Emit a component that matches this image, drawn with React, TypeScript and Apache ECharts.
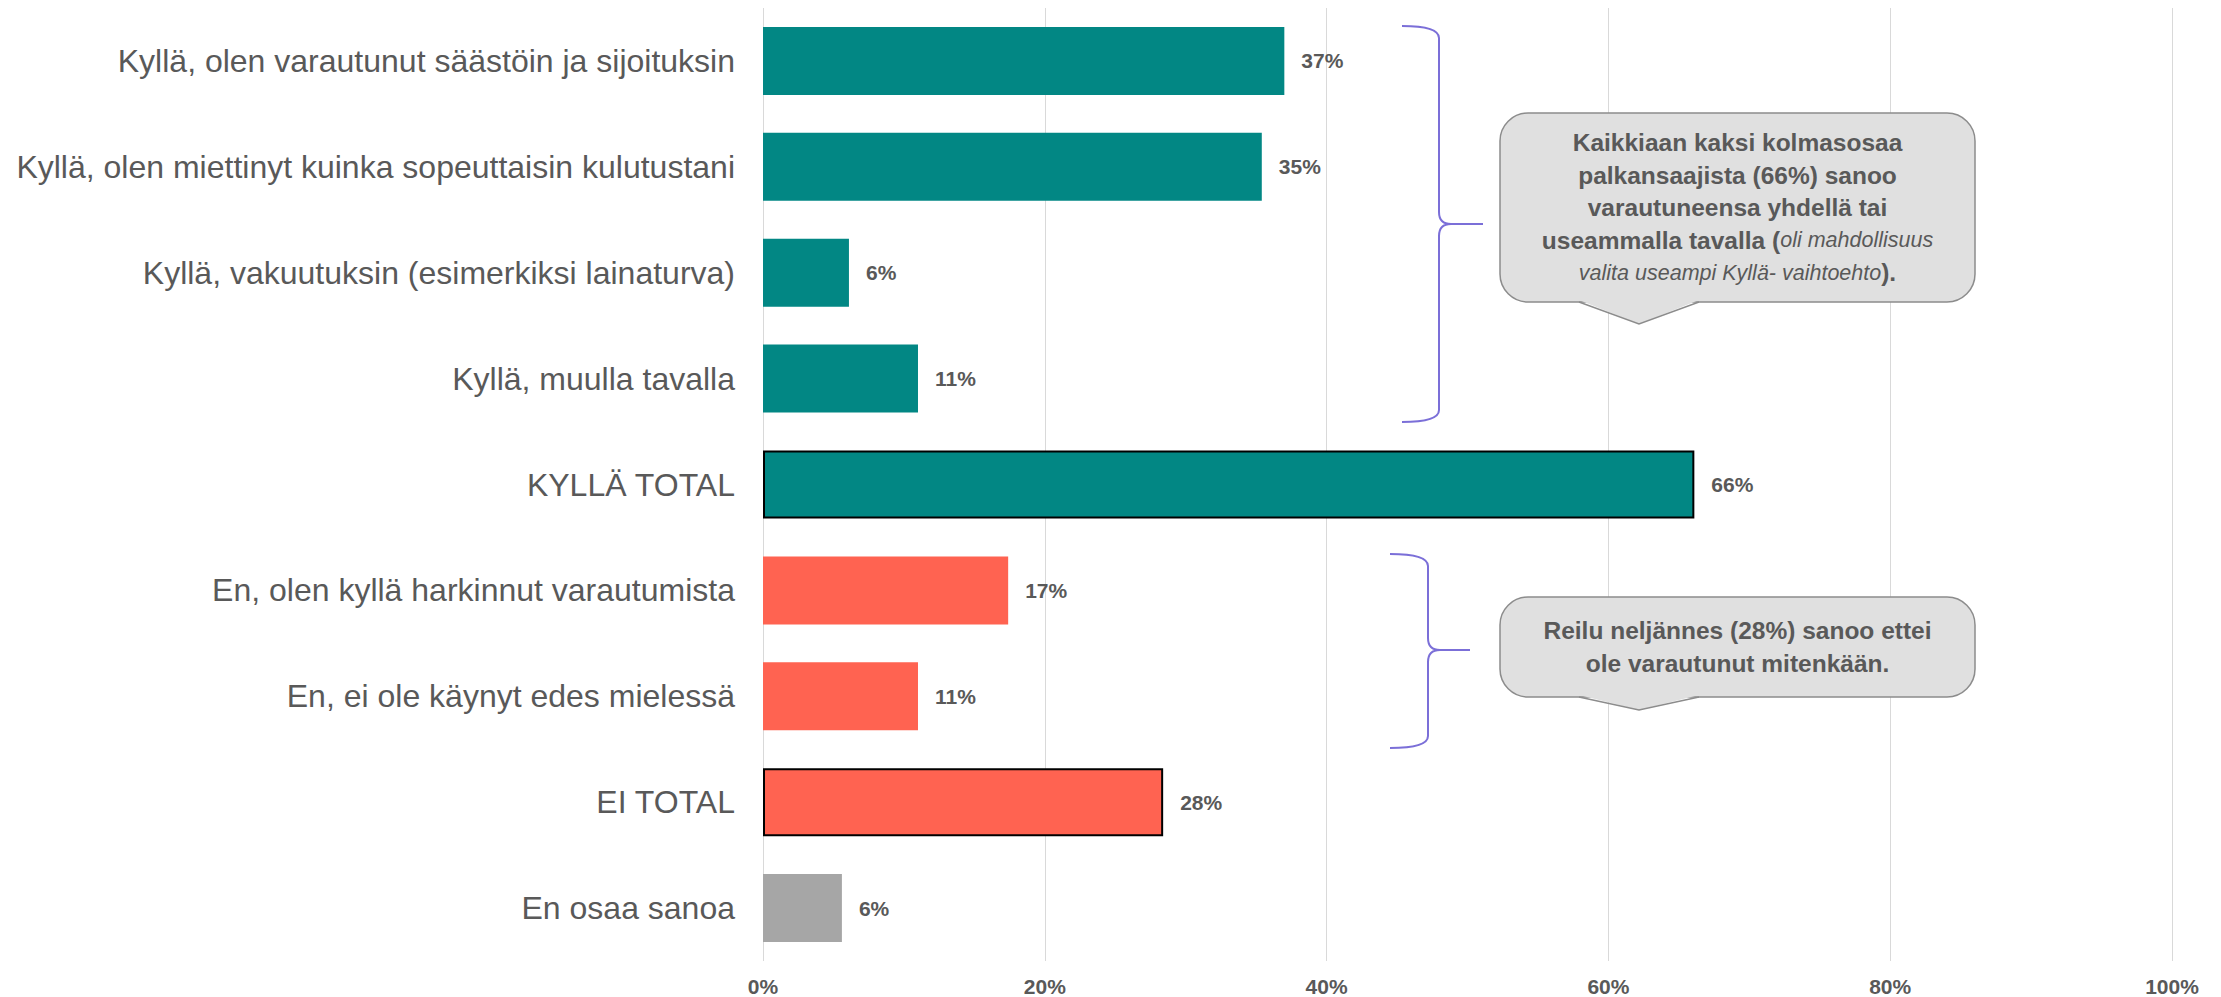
import React, { useEffect, useRef } from "react";
import * as echarts from "echarts";

const categories = [
  "Kyllä, olen varautunut säästöin ja sijoituksin",
  "Kyllä, olen miettinyt kuinka sopeuttaisin kulutustani",
  "Kyllä, vakuutuksin (esimerkiksi lainaturva)",
  "Kyllä, muulla tavalla",
  "KYLLÄ TOTAL",
  "En, olen kyllä harkinnut varautumista",
  "En, ei ole käynyt edes mielessä",
  "EI TOTAL",
  "En osaa sanoa",
];
const values = [37.0, 35.4, 6.1, 11.0, 66.1, 17.4, 11.0, 28.4, 5.6];
const groups = ["yes", "yes", "yes", "yes", "yes", "no", "no", "no", "dk"];
const isTotal = [false, false, false, false, true, false, false, true, false];
const xTicks = [0, 20, 40, 60, 80, 100];

const groupColors: Record<string, string> = { yes: "#028784", no: "#FF6351", dk: "#A6A6A6" };
const FONT = "'Liberation Sans', Arial, sans-serif";
const TXT = "#595959";

function bracePath(x0: number, xv: number, xt: number, y0: number, ym: number, y1: number) {
  const r = 12;
  return (
    `M${x0} ${y0} Q${xv} ${y0} ${xv} ${y0 + r} L${xv} ${ym - r} Q${xv} ${ym} ${xv + r} ${ym} L${xt} ${ym} ` +
    `M${xv + r} ${ym} Q${xv} ${ym} ${xv} ${ym + r} L${xv} ${y1 - r} Q${xv} ${y1} ${x0} ${y1}`
  );
}

let registered = false;

function callout(x: number, y: number, w: number, h: number, tipX: number, tipY: number, halfBase: number, text: string) {
  const bottom = y + h;
  return [
    {
      type: "rect",
      shape: { x, y, width: w, height: h, r: 28 },
      style: { fill: "#E0E0E0", stroke: "#8C8C8C", lineWidth: 1.5 },
      z: 10,
    },
    {
      type: "polygon",
      shape: { points: [[tipX - halfBase, bottom - 2], [tipX, tipY], [tipX + halfBase, bottom - 2]] },
      style: { fill: "#E0E0E0", stroke: "none" },
      z: 11,
    },
    {
      type: "polyline",
      shape: { points: [[tipX - halfBase, bottom], [tipX, tipY], [tipX + halfBase, bottom]] },
      style: { fill: "none", stroke: "#8C8C8C", lineWidth: 1.5 },
      z: 12,
    },
    {
      type: "text",
      x: x + w / 2,
      y: y + h / 2,
      z: 13,
      style: {
        text,
        align: "center",
        verticalAlign: "middle",
        fontFamily: FONT,
        fontSize: 24.5,
        fontWeight: "bold",
        fill: TXT,
        lineHeight: 32.5,
        rich: {
          n: { fontFamily: FONT, fontSize: 24.5, fontWeight: "bold", fill: TXT, lineHeight: 32.5 },
          i: { fontFamily: FONT, fontSize: 21.5, fontStyle: "italic", fontWeight: "normal", fill: TXT, lineHeight: 32.5 },
        },
      },
    },
  ];
}

export default function App() {
  const ref = useRef<HTMLDivElement>(null);
  useEffect(() => {
    if (!ref.current) return;
    if (!registered) {
      echarts.graphic.registerShape("brace1", echarts.graphic.extendPath(bracePath(1402, 1439, 1483, 26, 224, 422), {}));
      echarts.graphic.registerShape("brace2", echarts.graphic.extendPath(bracePath(1390, 1428, 1470, 554, 650, 748), {}));
      registered = true;
    }
    const chart = echarts.init(ref.current, undefined, { renderer: "svg" });
    const text1 =
      "{n|Kaikkiaan kaksi kolmasosaa}\n{n|palkansaajista (66%) sanoo}\n{n|varautuneensa yhdellä tai}\n{n|useammalla tavalla (}{i|oli mahdollisuus}\n{i|valita useampi Kyllä- vaihtoehto}{n|).}";
    const text2 = "{n|Reilu neljännes (28%) sanoo ettei}\n{n|ole varautunut mitenkään.}";
    chart.setOption({
      animation: false,
      backgroundColor: "#FFFFFF",
      grid: { left: 763, right: 49, top: 8, bottom: 35, containLabel: false },
      xAxis: {
        type: "value",
        min: xTicks[0],
        max: xTicks[xTicks.length - 1],
        interval: xTicks[1] - xTicks[0],
        axisLine: { show: false },
        axisTick: { show: false },
        splitLine: { show: true, lineStyle: { color: "#D9D9D9", width: 1 } },
        axisLabel: {
          formatter: "{value}%",
          fontFamily: FONT,
          fontSize: 21,
          fontWeight: "bold",
          color: TXT,
          margin: 15,
        },
      },
      yAxis: {
        type: "category",
        inverse: true,
        data: categories,
        axisLine: { show: false },
        axisTick: { show: false },
        axisLabel: { fontFamily: FONT, fontSize: 32, color: TXT, margin: 28 },
      },
      series: [
        {
          type: "bar",
          barWidth: 68,
          data: values.map((v, i) => ({
            value: v,
            itemStyle: {
              color: groupColors[groups[i]],
              borderColor: isTotal[i] ? "#000000" : groupColors[groups[i]],
              borderWidth: isTotal[i] ? 2 : 0,
            },
          })),
          label: {
            show: true,
            position: "right",
            distance: 17,
            formatter: (p: any) => Math.round(p.value) + "%",
            fontFamily: FONT,
            fontSize: 21,
            fontWeight: "bold",
            color: TXT,
          },
        },
      ],
      graphic: [
        { type: "brace1", x: 0, y: 0, style: { fill: "none", stroke: "#7B6FD8", lineWidth: 2 }, z: 5 },
        { type: "brace2", x: 0, y: 0, style: { fill: "none", stroke: "#7B6FD8", lineWidth: 2 }, z: 5 },
        ...callout(1500, 113, 475, 189, 1639, 324, 60, text1),
        ...callout(1500, 597, 475, 100, 1639, 710, 60, text2),
      ],
    });
    return () => chart.dispose();
  }, []);
  return (
    <div
      ref={ref}
      style={{ position: "fixed", left: 0, top: 0, width: 2221, height: 997, background: "#fff" }}
    />
  );
}
